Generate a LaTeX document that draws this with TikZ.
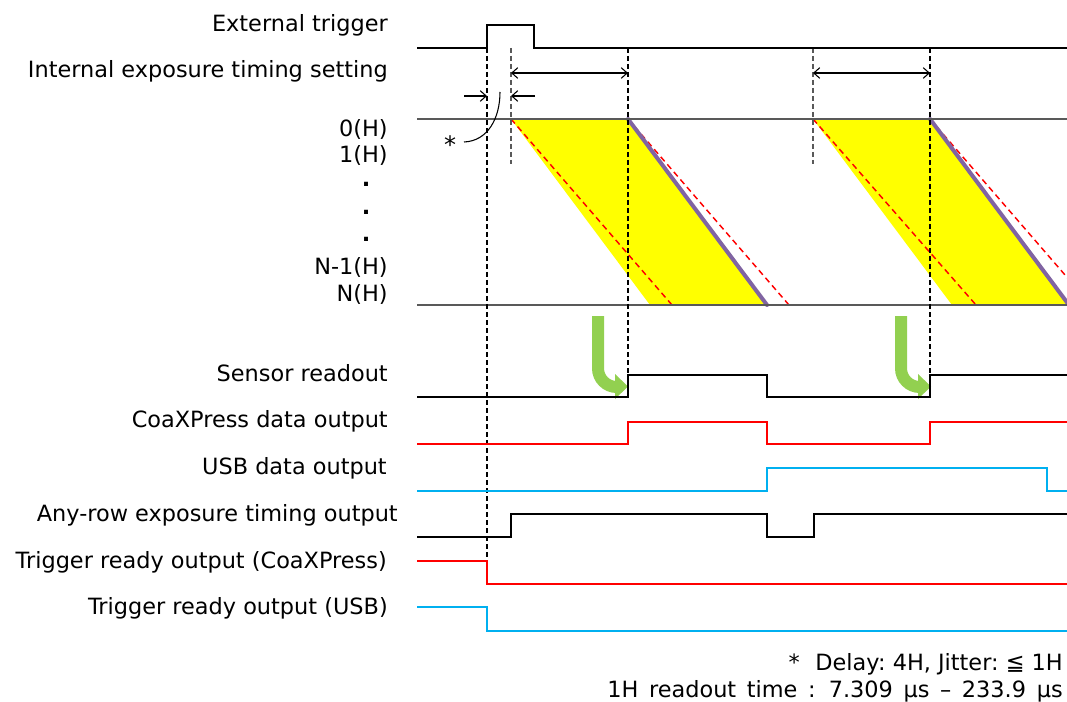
\documentclass[tikz,border=0pt]{standalone}
\usepackage{fontspec}
\setmainfont{DejaVu Sans}
\usetikzlibrary{arrows.meta}
\definecolor{sred}{HTML}{FF0000}
\definecolor{sblue}{HTML}{00B0F0}
\definecolor{sgreen}{HTML}{92D050}
\definecolor{spurple}{HTML}{8064A2}
\definecolor{syellow}{HTML}{FFFF00}
\definecolor{sgray}{HTML}{595959}
\begin{document}
\begin{tikzpicture}[x=0.75pt,y=-0.75pt,
  sig/.style={line width=2.1pt, line join=miter},
  guide/.style={line width=0.8pt, dash pattern=on 3.5pt off 2.5pt},
  rowline/.style={line width=1.3pt, sgray},
  reddash/.style={line width=1.1pt, sred, dash pattern=on 4.5pt off 3pt},
  readline/.style={line width=3pt, spurple, line cap=round},
  lbl/.style={anchor=base east, inner sep=0pt, font=\fontsize{16.8}{20}\selectfont},
  dotlbl/.style={anchor=base, inner sep=0pt, font=\fontsize{16.8}{20}\selectfont\bfseries},
  dim/.style={line width=0.8pt, arrows={Straight Barb[length=4.5pt,width=8pt]-Straight Barb[length=4.5pt,width=8pt]}},
  dimr/.style={line width=0.8pt, arrows={-Straight Barb[length=4.5pt,width=8pt]}},
  greenarrow/.style={line width=9pt, sgreen, rounded corners=14pt},
]
\useasboundingbox (0,0) rectangle (1067,702);
\begin{scope}
\clip (0,0) rectangle (1067,702);
% exposure regions
\fill[syellow] (511,119) -- (628,119) -- (767,305) -- (650,305) -- cycle;
\fill[syellow] (813,119) -- (930,119) -- (1069,305) -- (952,305) -- cycle;
\draw[reddash] (511,119) -- (672,305);
\draw[reddash] (628,119) -- (789,305);
\draw[reddash] (813,119) -- (976,305);
\draw[reddash] (930,119) -- (1091,305);
\draw[readline] (628,119) -- (767,305);
\draw[readline] (930,119) -- (1069,305);
\draw[rowline] (417,119) -- (1067,119);
\draw[rowline] (417,305) -- (1067,305);
% guides
\draw[guide] (487,48) -- (487,584);
\draw[guide, sgray] (511,48) -- (511,164);
\draw[guide] (628,48) -- (628,375);
\draw[guide, sgray] (813,48) -- (813,164);
\draw[guide] (930,48) -- (930,375);
% dimension arrows
\draw[dim] (511,73) -- (628,73);
\draw[dim] (813,73) -- (930,73);
\draw[dimr] (464,96) -- (487,96);
\draw[dimr] (535,96) -- (511,96);
\draw[line width=0.8pt] (464,142) .. controls (488,141) and (500,118) .. (500,92);
% green arrows
\draw[greenarrow] (598,316) -- (598,387) -- (616,387);
\fill[sgreen] (615,374) -- (628,386.5) -- (615,399) -- cycle;
\draw[greenarrow] (901,316) -- (901,387) -- (919,387);
\fill[sgreen] (918,374) -- (931,386.5) -- (918,399) -- cycle;
% signals
\draw[sig] (417,48) -- (487,48) -- (487,25) -- (534,25) -- (534,48) -- (1067,48);
\draw[sig] (417,397) -- (628,397) -- (628,375) -- (767,375) -- (767,397) -- (930,397) -- (930,375) -- (1067,375);
\draw[sig, sred] (417,444) -- (628,444) -- (628,422) -- (767,422) -- (767,444) -- (930,444) -- (930,422) -- (1067,422);
\draw[sig, sblue] (417,491) -- (767,491) -- (767,468) -- (1047,468) -- (1047,491) -- (1067,491);
\draw[sig] (417,537) -- (511,537) -- (511,514) -- (767,514) -- (767,537) -- (814,537) -- (814,514) -- (1067,514);
\draw[sig, sred] (417,561) -- (487,561) -- (487,584) -- (1067,584);
\draw[sig, sblue] (417,607) -- (487,607) -- (487,631) -- (1067,631);
\end{scope}
% labels
\node[lbl] (lext) at (388,32) {External trigger};
\node[lbl] (lint) at (388,78) {Internal exposure timing setting};
\node[lbl] (l0) at (388,137) {0(H)};
\node[lbl] (l1) at (388,163) {1(H)};
\node[dotlbl] (d1) at (366,187) {.};
\node[dotlbl] (d2) at (366,215) {.};
\node[dotlbl] (d3) at (366,242) {.};
\node[lbl] (ln1) at (388,275) {N-1(H)};
\node[lbl] (ln) at (388,301) {N(H)};
\node[anchor=center, inner sep=0pt, font=\fontsize{18}{20}\selectfont] (star) at (450,145) {*};
\node[lbl] (lsr) at (388,381) {Sensor readout};
\node[lbl] (lcxp) at (388,427) {CoaXPress data output};
\node[lbl] (lusb) at (387,474) {USB data output};
\node[lbl] (lany) at (398,521) {Any-row exposure timing output};
\node[lbl] (ltrc) at (387,568) {Trigger ready output (CoaXPress)};
\node[lbl] (ltru) at (388,614) {Trigger ready output (USB)};
\node[lbl] (fn1) at (1063,670) {*\hspace{0.7em}Delay:\ 4H,\ Jitter:\ ≦\ 1H};
\node[lbl] (fn2) at (1063,697) {\spaceskip=8pt 1H readout time : 7.309 μs – 233.9 μs};
\end{tikzpicture}
\end{document}
